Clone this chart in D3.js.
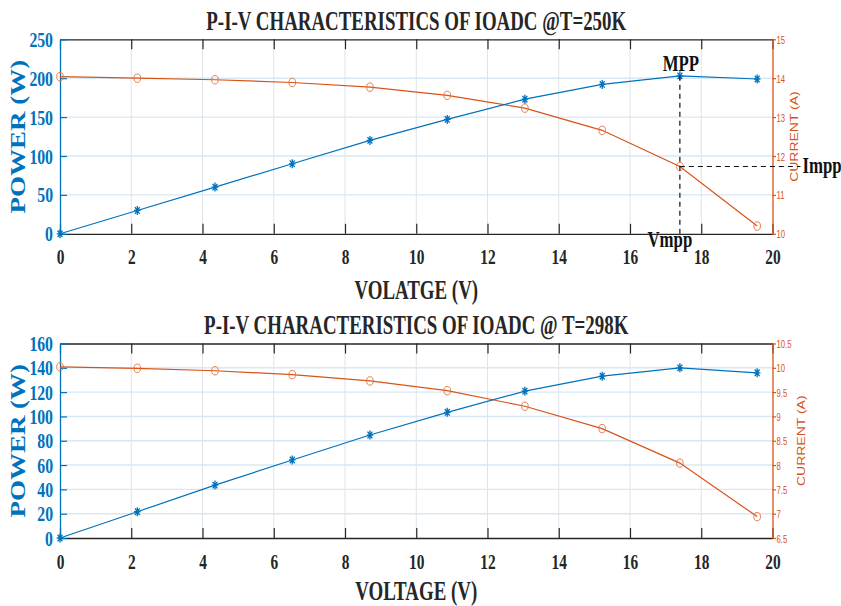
<!DOCTYPE html>
<html>
<head>
<meta charset="utf-8">
<script src="https://cdn.jsdelivr.net/npm/d3@7"></script>
<style>
  html, body { margin: 0; padding: 0; background: #fff; }
  svg { display: block; }
</style>
</head>
<body>
<svg id="chart" width="841" height="606"></svg>
<script>
// Measured operating points of the IOADC module
const voltage    = [0, 2.17, 4.35, 6.52, 8.7, 10.87, 13.05, 15.22, 17.4, 19.57];
const power250   = [0, 30, 60, 90, 120, 147, 173, 192, 203, 199];
const current250 = [14.04, 14.0, 13.96, 13.89, 13.77, 13.56, 13.23, 12.66, 11.73, 10.2];
const power298   = [0, 21.6, 43.5, 64.2, 84.7, 103.4, 120.8, 133.1, 140, 135.9];
const current298 = [10.02, 9.99, 9.94, 9.86, 9.73, 9.53, 9.21, 8.75, 8.04, 6.94];

// Axis ticks
const voltageTicks    = [0, 2, 4, 6, 8, 10, 12, 14, 16, 18, 20];
const powerTicks250   = [0, 50, 100, 150, 200, 250];
const currentTicks250 = [10, 11, 12, 13, 14, 15];
const powerTicks298   = [0, 20, 40, 60, 80, 100, 120, 140, 160];
const currentTicks298 = [6.5, 7, 7.5, 8, 8.5, 9, 9.5, 10, 10.5];

// Texts
const titles   = ["P-I-V CHARACTERISTICS OF IOADC @T=250K", "P-I-V CHARACTERISTICS OF IOADC @ T=298K"];
const xLabels  = ["VOLATGE (V)", "VOLTAGE (V)"];
const yLabel   = "POWER (W)";
const y2Label  = "CURRENT (A)";
const mppLabels = ["MPP", "Vmpp", "Impp"];

const BLUE = "#0072BD", ORANGE = "#D95319", INK = "#262626";
const SERIF = "'Liberation Serif', 'Times New Roman', serif";
const SANS = "'Liberation Sans', Arial, sans-serif";
const SQ = 0.7; // horizontal squeeze of the lettering

const svg = d3.select("#chart");
svg.append("rect").attr("width", 841).attr("height", 606).attr("fill", "#fff");

function label(g, x, y, txt, o) {
  return g.append("text")
    .attr("transform", `translate(${x},${y}) scale(${o.sx ?? SQ},1)`)
    .attr("text-anchor", o.anchor || "middle")
    .attr("font-family", o.family || SERIF)
    .attr("font-weight", o.weight || "bold")
    .attr("font-size", o.size)
    .attr("fill", o.fill || INK)
    .text(txt);
}
function vlabel(g, x, y, txt, o) {
  return g.append("text")
    .attr("transform", `translate(${x},${y}) rotate(-90) scale(1,${o.sy ?? 0.8})`)
    .attr("text-anchor", "middle")
    .attr("font-family", o.family || SERIF)
    .attr("font-weight", o.weight || "bold")
    .attr("font-size", o.size)
    .attr("fill", o.fill || INK)
    .text(txt);
}

function drawPanel(p) {
  const L = 60, R = 772.5, T = p.top, B = p.top + 194.5;
  const g = svg.append("g");

  const x  = d3.scaleLinear().domain([0, 20]).range([L, R]);
  const yP = d3.scaleLinear().domain(p.pDomain).range([B, T]);
  const yI = d3.scaleLinear().domain(p.iDomain).range([B, T]);

  // grid
  g.append("g").selectAll("line").data(voltageTicks.slice(1, -1)).join("line")
    .attr("x1", d => x(d)).attr("x2", d => x(d)).attr("y1", T).attr("y2", B)
    .attr("stroke", "#e0e3e7").attr("stroke-width", 1);
  g.append("g").selectAll("line").data(p.pTicks.slice(1, -1)).join("line")
    .attr("x1", L).attr("x2", R).attr("y1", d => yP(d)).attr("y2", d => yP(d))
    .attr("stroke", "#d8e8f4").attr("stroke-width", 1.4);

  // bottom axis
  const ax = g.append("g").attr("transform", `translate(0,${B})`)
    .call(d3.axisBottom(x).tickValues(voltageTicks).tickSize(-10).tickSizeOuter(0).tickFormat(d3.format("d")));
  ax.select(".domain").attr("stroke", INK).attr("stroke-width", 1.3);
  ax.selectAll(".tick line").attr("stroke", INK).attr("stroke-width", 1.2);
  ax.selectAll(".tick text").attr("y", null).attr("dy", null)
    .attr("transform", `translate(0,30.5) scale(${SQ},1)`)
    .attr("font-family", SERIF).attr("font-weight", "bold").attr("font-size", 22).attr("fill", INK);

  // top axis (ticks only)
  const axT = g.append("g").attr("transform", `translate(0,${T})`)
    .call(d3.axisTop(x).tickValues(voltageTicks).tickSize(-10).tickSizeOuter(0).tickFormat(""));
  axT.select(".domain").attr("stroke", INK).attr("stroke-width", 1.3);
  axT.selectAll(".tick line").attr("stroke", INK).attr("stroke-width", 1.2);

  // left power axis
  const ayL = g.append("g").attr("transform", `translate(${L},0)`)
    .call(d3.axisLeft(yP).tickValues(p.pTicks).tickSize(-7).tickSizeOuter(0).tickFormat(d3.format("d")));
  ayL.select(".domain").attr("stroke", BLUE).attr("stroke-width", 1.3);
  ayL.selectAll(".tick line").attr("stroke", BLUE).attr("stroke-width", 1.2);
  ayL.selectAll(".tick text").attr("x", null).attr("dy", null)
    .attr("transform", `translate(-7,7) scale(0.75,1)`)
    .attr("font-family", SERIF).attr("font-weight", "bold").attr("font-size", 21).attr("fill", BLUE);

  // right current axis
  const ayR = g.append("g").attr("transform", `translate(${R},0)`)
    .call(d3.axisRight(yI).tickValues(p.iTicks).tickSize(3.5).tickSizeOuter(0).tickFormat(d3.format("")));
  ayR.select(".domain").attr("stroke", ORANGE).attr("stroke-width", 1.3);
  ayR.selectAll(".tick line").attr("stroke", ORANGE).attr("stroke-width", 1.2);
  ayR.selectAll(".tick text").attr("x", null).attr("dy", null)
    .attr("transform", `translate(4,4) scale(${SQ},1)`)
    .attr("font-family", SANS).attr("font-size", 11).attr("fill", ORANGE);

  // current curve with circle markers
  const iLine = d3.line().x((d, i) => x(voltage[i])).y(d => yI(d));
  g.append("path").attr("d", iLine(p.current)).attr("fill", "none")
    .attr("stroke", ORANGE).attr("stroke-width", 1.2);
  g.append("g").selectAll("ellipse").data(p.current).join("ellipse")
    .attr("cx", (d, i) => x(voltage[i])).attr("cy", d => yI(d))
    .attr("rx", 3.3).attr("ry", 4.2)
    .attr("fill", "none").attr("stroke", "#E0703F").attr("stroke-width", 0.9);

  // power curve with asterisk markers
  const pLine = d3.line().x((d, i) => x(voltage[i])).y(d => yP(d));
  g.append("path").attr("d", pLine(p.power)).attr("fill", "none")
    .attr("stroke", BLUE).attr("stroke-width", 1.2);
  const star = "M0,-4.5V4.5M-3.3,0H3.3M-2.4,-3.3L2.4,3.3M-2.4,3.3L2.4,-3.3";
  g.append("g").selectAll("path").data(p.power).join("path")
    .attr("transform", (d, i) => `translate(${x(voltage[i])},${yP(d)})`)
    .attr("d", star).attr("fill", "none").attr("stroke", BLUE).attr("stroke-width", 1.3);

  // titles and axis labels
  label(g, (L + R) / 2, T - 9.5, p.title, { size: 27 });
  label(g, (L + R) / 2, B + p.xLabelGap, p.xLabel, { size: 27 });
  vlabel(g, 25, (T + B) / 2, yLabel, { size: 27, fill: BLUE });
  vlabel(g, p.y2x, (T + B) / 2, y2Label, { size: 14, family: SANS, weight: "normal", fill: ORANGE });

  // maximum power point annotation
  if (p.mpp) {
    const k = d3.maxIndex(p.power);
    const xm = x(voltage[k]), ym = yP(p.power[k]), yi = yI(p.current[k]);
    g.append("line").attr("x1", xm).attr("x2", xm).attr("y1", ym).attr("y2", B)
      .attr("stroke", "#111").attr("stroke-width", 1.2).attr("stroke-dasharray", "5,4");
    g.append("line").attr("x1", xm).attr("x2", R + 28).attr("y1", yi).attr("y2", yi)
      .attr("stroke", "#111").attr("stroke-width", 1.2).attr("stroke-dasharray", "5,4");
    label(g, xm + 1, ym - 4.5, mppLabels[0], { size: 24, fill: "#111" });
    label(g, xm - 10, B + 13, mppLabels[1], { size: 24, fill: "#111" });
    label(g, R + 30, yi + 6, mppLabels[2], { size: 24, fill: "#111", anchor: "start" });
  }
}

drawPanel({
  top: 39.3, title: titles[0], xLabel: xLabels[0], xLabelGap: 65,
  power: power250, current: current250,
  pDomain: [0, 250], iDomain: [10, 15],
  pTicks: powerTicks250, iTicks: currentTicks250,
  y2x: 798, mpp: true
});
drawPanel({
  top: 343.5, title: titles[1], xLabel: xLabels[1], xLabelGap: 61.5,
  power: power298, current: current298,
  pDomain: [0, 160], iDomain: [6.5, 10.5],
  pTicks: powerTicks298, iTicks: currentTicks298,
  y2x: 805, mpp: false
});
</script>
</body>
</html>
